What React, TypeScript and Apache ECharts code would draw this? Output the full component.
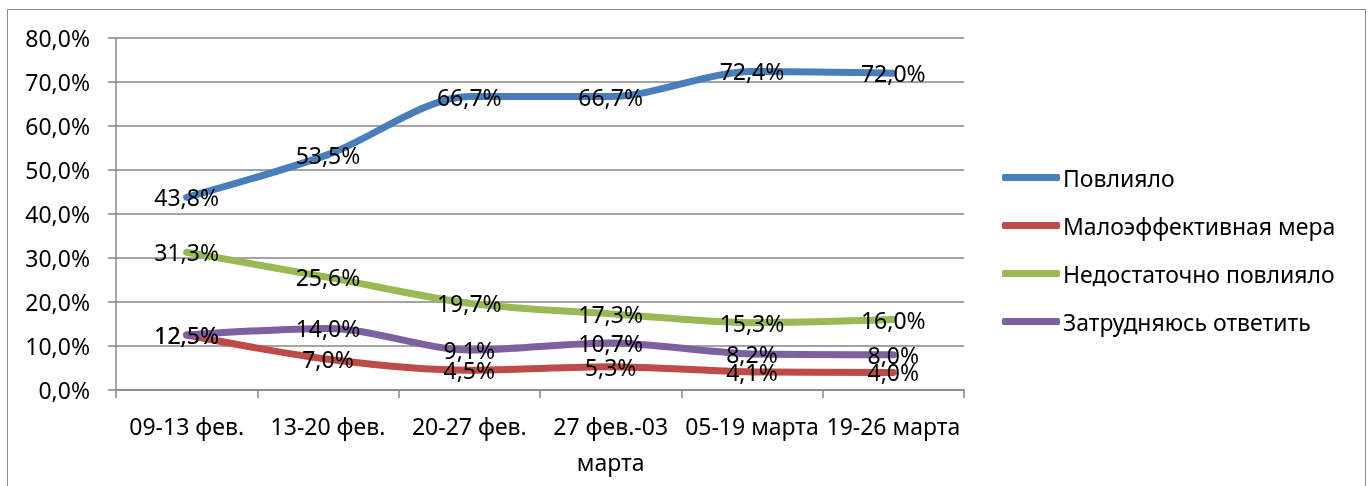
import React, { useEffect, useRef } from "react";
import * as echarts from "echarts";

const categories = ["09-13 фев.", "13-20 фев.", "20-27 фев.", "27 фев.-03 марта", "05-19 марта", "19-26 марта"];
const seriesNames = ["Повлияло", "Малоэффективная мера", "Недостаточно повлияло", "Затрудняюсь ответить"];
const povliyalo = [43.8, 53.5, 66.7, 66.7, 72.4, 72.0];
const maloeff = [12.5, 7.0, 4.5, 5.3, 4.1, 4.0];
const nedost = [31.3, 25.6, 19.7, 17.3, 15.3, 16.0];
const zatrud = [12.5, 14.0, 9.1, 10.7, 8.2, 8.0];
const colors = ["#4a7ebb", "#be4b48", "#98b954", "#7d60a0"];

const FONT = "Noto Sans";
const FS = 23;
const fmt = (v: number) => v.toFixed(1).replace(".", ",") + "%";

export default function App() {
  const ref = useRef<HTMLDivElement>(null);
  useEffect(() => {
    if (!ref.current) return;
    const chart = echarts.init(ref.current, null, { renderer: "svg" });
    const data = [povliyalo, maloeff, nedost, zatrud];
    chart.setOption({
      animation: false,
      textStyle: { fontFamily: FONT },
      graphic: [
        {
          type: "rect",
          shape: { x: 7.5, y: 9.5, width: 1358, height: 500 },
          style: { fill: "none", stroke: "#8a8a8a", lineWidth: 1 },
          silent: true,
        },
      ],
      grid: { left: 116, right: 406, top: 38, bottom: 96, containLabel: false },
      legend: {
        orient: "vertical",
        left: 1002,
        top: 166,
        padding: 0,
        itemWidth: 58,
        itemHeight: 7,
        itemGap: 25,
        icon: "roundRect",
        textStyle: { fontFamily: FONT, fontSize: FS, color: "#000", padding: [0, 0, 0, -2] },
        data: seriesNames,
      },
      xAxis: {
        type: "category",
        data: categories,
        boundaryGap: true,
        axisLine: { lineStyle: { color: "#868686", width: 1.5 } },
        axisTick: { show: true, length: 8, interval: 0, lineStyle: { color: "#868686", width: 1.5 } },
        axisLabel: {
          interval: 0,
          margin: 18,
          color: "#000",
          fontFamily: FONT,
          fontSize: FS,
          lineHeight: 36,
          formatter: (v: string) => (v === "27 фев.-03 марта" ? "27 фев.-03\nмарта" : v),
        },
      },
      yAxis: {
        type: "value",
        min: 0,
        max: 80,
        interval: 10,
        axisLine: { show: true, lineStyle: { color: "#868686", width: 1.5 } },
        axisTick: { show: true, length: 8, lineStyle: { color: "#868686", width: 1.5 } },
        splitLine: { show: true, lineStyle: { color: "#868686", width: 1.5 } },
        axisLabel: {
          color: "#000",
          fontFamily: FONT,
          fontSize: FS,
          margin: 26,
          formatter: (v: number) => fmt(v),
        },
      },
      series: seriesNames.map((name, i) => ({
        name,
        type: "line",
        data: data[i],
        smooth: 0.3,
        symbol: "circle",
        symbolSize: 0,
        showSymbol: true,
        color: colors[i],
        lineStyle: { width: 7, color: colors[i], cap: "round" },
        itemStyle: { color: colors[i] },
        label: {
          show: true,
          position: "inside",
          color: "#000",
          fontFamily: FONT,
          fontSize: FS,
          formatter: (p: any) => fmt(p.value),
        },
        z: 2 + i,
      })),
    });
    return () => chart.dispose();
  }, []);
  return <div ref={ref} style={{ position: "fixed", left: 0, top: 0, width: 1370, height: 486 }} />;
}
